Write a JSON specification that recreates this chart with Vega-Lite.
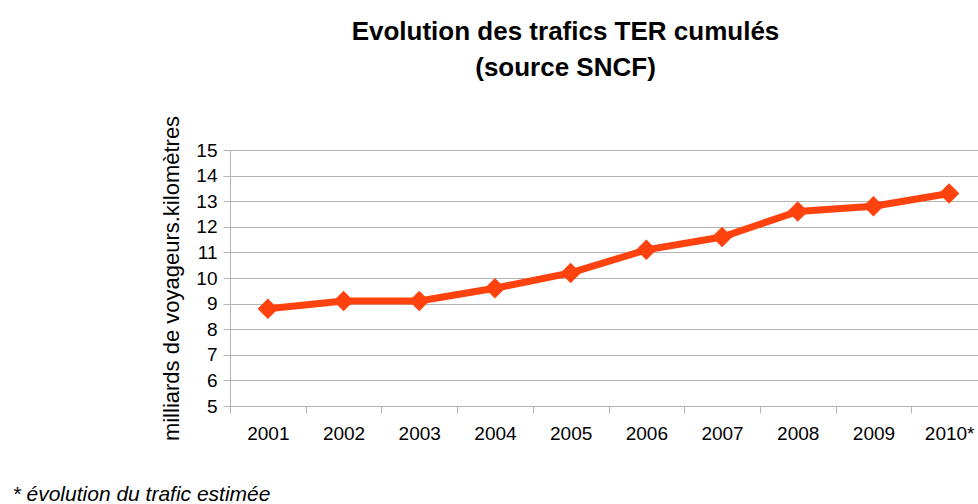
{
  "$schema": "https://vega.github.io/schema/vega-lite/v6.json",
  "autosize": "none",
  "width": 757,
  "height": 256,
  "padding": {"left": 230, "top": 150, "right": 0, "bottom": 98},
  "background": "white",
  "title": {
    "text": ["Evolution des trafics TER cumulés", "(source SNCF)"],
    "font": "Liberation Sans",
    "fontSize": 26,
    "fontWeight": "bold",
    "color": "#000000",
    "anchor": "middle",
    "frame": "group",
    "dx": -43,
    "offset": 34,
    "lineHeight": 36
  },
  "data": {
    "values": [
      {"annee": "2001", "trafic": 8.8},
      {"annee": "2002", "trafic": 9.1},
      {"annee": "2003", "trafic": 9.1},
      {"annee": "2004", "trafic": 9.6},
      {"annee": "2005", "trafic": 10.2},
      {"annee": "2006", "trafic": 11.1},
      {"annee": "2007", "trafic": 11.6},
      {"annee": "2008", "trafic": 12.6},
      {"annee": "2009", "trafic": 12.8},
      {"annee": "2010*", "trafic": 13.3}
    ]
  },
  "config": {
    "view": {"stroke": null},
    "axis": {
      "labelFont": "Liberation Sans",
      "labelFontSize": 19,
      "labelColor": "#000000",
      "titleFont": "Liberation Sans",
      "titleColor": "#000000",
      "domainColor": "#b3b3b3",
      "tickColor": "#b3b3b3",
      "gridColor": "#b3b3b3",
      "tickSize": 7
    }
  },
  "mark": {
    "type": "line",
    "color": "#ff420e",
    "strokeWidth": 7,
    "point": {"shape": "diamond", "size": 420, "filled": true, "color": "#ff420e", "opacity": 1}
  },
  "encoding": {
    "x": {
      "field": "annee",
      "type": "ordinal",
      "scale": {"type": "band", "paddingInner": 0, "paddingOuter": 0},
      "axis": {
        "labelAngle": 0,
        "tickBand": "extent",
        "grid": false,
        "labelPadding": 11,
        "title": "* évolution du trafic estimée",
        "titleAnchor": "start",
        "titleAlign": "left",
        "titleX": -218,
        "titleY": 77,
        "titleFontSize": 21,
        "titleFontStyle": "italic",
        "titleFontWeight": "normal"
      }
    },
    "y": {
      "field": "trafic",
      "type": "quantitative",
      "scale": {"domain": [5, 15], "nice": false, "zero": false},
      "axis": {
        "values": [5, 6, 7, 8, 9, 10, 11, 12, 13, 14, 15],
        "grid": true,
        "labelPadding": 6,
        "title": "milliards de voyageurs.kilomètres",
        "titleFontSize": 22,
        "titleFontWeight": "normal",
        "titlePadding": 12
      }
    }
  }
}
